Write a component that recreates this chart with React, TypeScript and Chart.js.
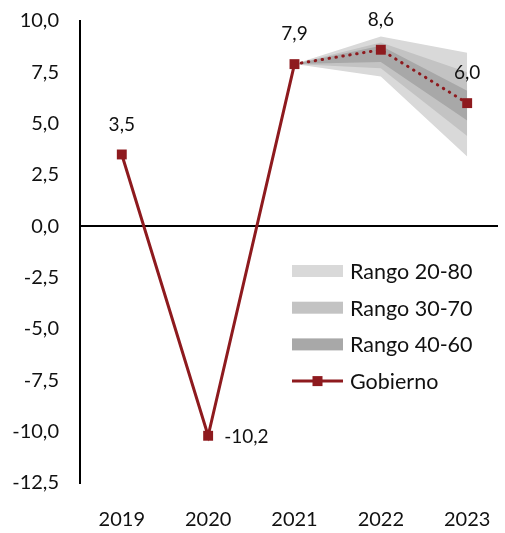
import React, { useEffect, useRef } from 'react';
import { Chart, registerables } from 'chart.js';

Chart.register(...registerables);

// Years on the horizontal axis
const years = ['2019', '2020', '2021', '2022', '2023'];

// Government growth path (%)
const gobierno = [3.5, -10.2, 7.9, 8.6, 6.0];

// Fan of analyst ranges, starting from the last observed year (2021)
const fanIndex = [2, 3, 4];
const rango2080Alto = [7.9, 9.25, 8.45];
const rango2080Bajo = [7.9, 7.3, 3.4];
const rango3070Alto = [7.9, 8.95, 7.5];
const rango3070Bajo = [7.9, 7.7, 4.4];
const rango4060Alto = [7.9, 8.8, 6.6];
const rango4060Bajo = [7.9, 8.0, 5.15];

// Vertical axis range
const yMin = -12.5;
const yMax = 10;
const yStep = 2.5;

const FONT = 'Lato, "Open Sans", sans-serif';
const RED = '#8E1A1E';
const C2080 = '#d9d9d9';
const C3070 = '#c3c3c3';
const C4060 = '#a8a8a8';

const fmt = (v: number) => v.toFixed(1).replace('.', ',');

const toPoints = (vals: number[]) => vals.map((y, i) => ({ x: fanIndex[i], y }));

const legendItems = [
  { label: 'Rango 20-80', color: C2080, line: false },
  { label: 'Rango 30-70', color: C3070, line: false },
  { label: 'Rango 40-60', color: C4060, line: false },
  { label: 'Gobierno', color: RED, line: true },
];

const valueLabels = {
  id: 'valueLabels',
  afterDatasetsDraw(chart: any) {
    const meta = chart.getDatasetMeta(0);
    const ctx = chart.ctx;
    ctx.save();
    ctx.font = `19px ${FONT}`;
    ctx.fillStyle = '#111';
    ctx.textBaseline = 'middle';
    meta.data.forEach((pt: any, i: number) => {
      const text = fmt(gobierno[i]);
      if (i === 1) {
        ctx.textAlign = 'left';
        ctx.fillText(text, pt.x + 16, pt.y + 1);
      } else {
        ctx.textAlign = 'center';
        ctx.fillText(text, pt.x, pt.y - 30);
      }
    });
    ctx.restore();
  },
};

const fanLegend = {
  id: 'fanLegend',
  afterDraw(chart: any) {
    const ctx = chart.ctx;
    const area = chart.chartArea;
    const x0 = area.left + 212;
    const y0 = area.top + 250;
    const rowH = 36.7;
    const swW = 51;
    const swH = 12;
    ctx.save();
    ctx.font = `21.5px ${FONT}`;
    ctx.textBaseline = 'middle';
    ctx.textAlign = 'left';
    legendItems.forEach((it, i) => {
      const cy = y0 + i * rowH;
      if (it.line) {
        ctx.strokeStyle = it.color;
        ctx.lineWidth = 3;
        ctx.beginPath();
        ctx.moveTo(x0, cy);
        ctx.lineTo(x0 + swW, cy);
        ctx.stroke();
        ctx.fillStyle = it.color;
        ctx.fillRect(x0 + swW / 2 - 5, cy - 5, 10, 10);
      } else {
        ctx.fillStyle = it.color;
        ctx.fillRect(x0, cy - swH / 2, swW, swH);
      }
      ctx.fillStyle = '#111';
      ctx.fillText(it.label, x0 + 58, cy + 1);
    });
    ctx.restore();
  },
};

export default function App() {
  const canvasRef = useRef<HTMLCanvasElement | null>(null);

  useEffect(() => {
    if (!canvasRef.current) return;
    const band = (data: number[], color: string, order: number, fill: any) => ({
      data: toPoints(data),
      borderWidth: 0,
      pointRadius: 0,
      backgroundColor: color,
      borderColor: color,
      fill,
      order,
      tension: 0,
    });

    const chart = new Chart(canvasRef.current, {
      type: 'line',
      data: {
        datasets: [
          {
            label: 'Gobierno',
            data: gobierno.map((y, i) => ({ x: i, y })),
            borderColor: RED,
            backgroundColor: RED,
            borderWidth: 3,
            pointStyle: 'rect',
            pointRadius: 7,
            pointBorderWidth: 0,
            pointBackgroundColor: RED,
            borderCapStyle: 'round',
            fill: false,
            order: 0,
            tension: 0,
            segment: {
              borderDash: (c: any) => (c.p0DataIndex >= 2 ? [0.5, 6.5] : undefined),
            },
          } as any,
          band(rango4060Alto, C4060, 1, '+1'),
          band(rango4060Bajo, C4060, 1, false),
          band(rango3070Alto, C3070, 2, '+1'),
          band(rango3070Bajo, C3070, 2, false),
          band(rango2080Alto, C2080, 3, '+1'),
          band(rango2080Bajo, C2080, 3, false),
        ],
      },
      options: {
        animation: false,
        responsive: false,
        maintainAspectRatio: false,
        layout: { padding: { top: 21, right: 5, bottom: 1, left: 0 } },
        plugins: {
          legend: { display: false },
          tooltip: { enabled: false },
        },
        scales: {
          x: {
            type: 'linear',
            min: -0.484,
            max: 4.357,
            afterBuildTicks: (scale: any) => {
              scale.ticks = years.map((_, i) => ({ value: i }));
            },
            afterFit: (scale: any) => {
              scale.height = 49;
              scale.paddingLeft = 0;
              scale.paddingRight = 0;
            },
            ticks: {
              autoSkip: false,
              maxRotation: 0,
              padding: 25,
              color: '#111',
              font: { family: FONT, size: 20 },
              callback: (v: any) => years[Math.round(Number(v))] ?? '',
            },
            grid: { display: false, drawTicks: false },
            border: { display: false },
          },
          y: {
            min: yMin,
            max: yMax,
            afterFit: (scale: any) => {
              scale.width = 80;
              scale.paddingTop = 0;
              scale.paddingBottom = 0;
            },
            ticks: {
              stepSize: yStep,
              padding: 21,
              color: '#111',
              font: { family: FONT, size: 20 },
              callback: (v: any) => fmt(Number(v)),
            },
            grid: {
              drawTicks: false,
              color: (c: any) => (c.tick && c.tick.value === 0 ? '#000' : 'rgba(0,0,0,0)'),
              lineWidth: 2,
            },
            border: { display: true, color: '#000', width: 2 },
          },
        },
      },
      plugins: [valueLabels, fanLegend],
    });
    return () => chart.destroy();
  }, []);

  return (
    <div style={{ position: 'fixed', left: 0, top: 0, width: 505, height: 533, background: '#fff' }}>
      <canvas ref={canvasRef} width={505} height={533} style={{ width: 505, height: 533 }} />
    </div>
  );
}
